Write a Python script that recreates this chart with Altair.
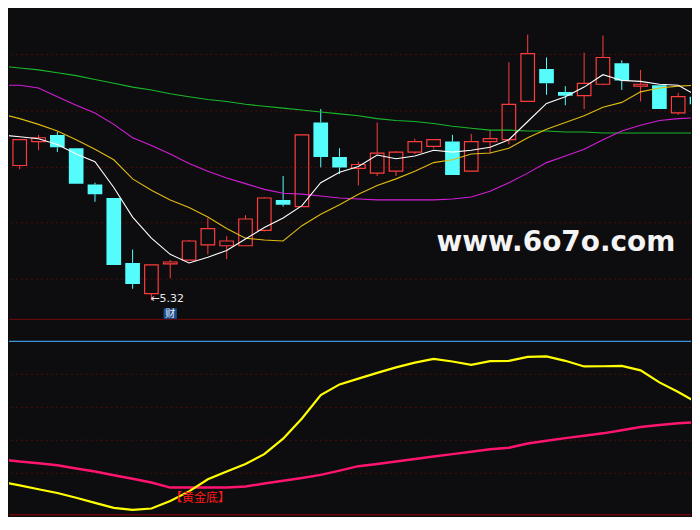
import altair as alt
import pandas as pd
import numpy as np

BG = "#0d0d10"
RED = "#ff3c3c"
CYAN = "#54fcfc"

# ---- candles (index 0..36) ----
opens  = [6.73, 6.98, 7.05, 6.91, 6.53, 6.39, 5.71, 5.39, 5.70, 5.74, 5.90, 5.89, 5.89, 6.05, 6.37, 6.30, 7.18, 6.82, 6.70,
          6.65, 6.67, 6.87, 6.93, 6.98, 6.67, 6.98, 7.00, 7.40, 7.74, 7.50, 7.46, 7.58, 7.80, 7.56, 7.57, 7.28, 7.45]
highs  = [7.00, 7.05, 7.08, 6.91, 6.55, 6.39, 5.85, 5.69, 5.74, 5.95, 6.18, 5.99, 6.21, 6.40, 6.62, 7.05, 7.32, 6.91, 6.77,
          7.18, 6.88, 7.01, 7.00, 7.05, 7.06, 7.10, 7.81, 8.10, 7.86, 7.56, 7.91, 8.09, 7.83, 7.73, 7.57, 7.49, 7.45]
lows   = [6.69, 6.89, 6.87, 6.54, 6.35, 5.69, 5.44, 5.32, 5.55, 5.74, 5.80, 5.75, 5.89, 6.04, 6.30, 6.30, 6.71, 6.64, 6.52,
          6.62, 6.62, 6.85, 6.91, 6.63, 6.67, 6.85, 6.95, 7.40, 7.47, 7.36, 7.32, 7.57, 7.52, 7.40, 7.32, 7.26, 7.37]
closes = [7.00, 7.02, 6.92, 6.54, 6.43, 5.69, 5.49, 5.69, 5.72, 5.94, 6.07, 5.94, 6.17, 6.39, 6.32, 7.05, 6.82, 6.71, 6.74,
          6.86, 6.87, 6.98, 7.00, 6.63, 6.98, 7.01, 7.37, 7.90, 7.59, 7.46, 7.59, 7.86, 7.62, 7.58, 7.32, 7.45, 7.37]

# ---- moving averages (index -1..36) ----
ma5  = [7.05, 7.03, 7.01, 6.95, 6.85, 6.77, 6.50, 6.19, 5.97, 5.80, 5.71, 5.77, 5.84, 5.96, 6.08, 6.18, 6.31, 6.55, 6.66,
        6.72, 6.84, 6.80, 6.83, 6.89, 6.87, 6.89, 6.92, 7.00, 7.19, 7.38, 7.45, 7.55, 7.68, 7.62, 7.61, 7.58, 7.57, 7.46]
ma10 = [7.27, 7.22, 7.16, 7.09, 7.00, 6.90, 6.79, 6.59, 6.47, 6.37, 6.29, 6.19, 6.07, 5.97, 5.95, 5.94, 6.10, 6.22, 6.32,
        6.43, 6.52, 6.59, 6.67, 6.76, 6.79, 6.85, 6.86, 6.91, 7.02, 7.11, 7.18, 7.25, 7.34, 7.39, 7.50, 7.54, 7.56, 7.57]
ma20 = [7.57, 7.57, 7.54, 7.45, 7.36, 7.28, 7.16, 7.02, 6.94, 6.85, 6.75, 6.67, 6.60, 6.54, 6.48, 6.44, 6.43, 6.41, 6.39,
        6.38, 6.37, 6.37, 6.37, 6.37, 6.38, 6.40, 6.46, 6.55, 6.65, 6.76, 6.83, 6.90, 7.00, 7.09, 7.15, 7.20, 7.22, 7.23]
ma60 = [7.77, 7.75, 7.73, 7.70, 7.67, 7.63, 7.59, 7.55, 7.52, 7.48, 7.45, 7.42, 7.40, 7.37, 7.35, 7.33, 7.31, 7.29, 7.27,
        7.25, 7.22, 7.20, 7.19, 7.17, 7.14, 7.12, 7.10, 7.10, 7.09, 7.09, 7.08, 7.08, 7.07, 7.07, 7.07, 7.07, 7.07, 7.07]

# ---- lower indicator (index -1..36) ----
ind_fast = [14.8, 12.6, 10.3, 8.0, 5.1, 2.0, -1.0, -2.2, -1.4, 3.2, 9.0, 16.3, 21.0, 25.6, 31.6, 41.0, 53.2, 67.4, 73.9,
            77.4, 80.9, 84.2, 87.1, 89.4, 87.8, 85.7, 88.0, 88.2, 90.6, 90.9, 88.2, 84.8, 84.9, 85.1, 82.4, 75.1, 69.3, 62.9]
ind_slow = [28.4, 27.1, 26.1, 24.8, 22.9, 21.0, 18.8, 16.7, 14.4, 11.3, 11.3, 11.3, 11.3, 11.9, 13.8, 15.4, 17.1, 19.0, 21.6,
            24.3, 25.6, 27.1, 28.7, 30.1, 31.6, 33.0, 34.5, 35.5, 38.0, 39.7, 41.3, 42.8, 44.2, 46.1, 48.0, 49.3, 50.3, 51.0]

grid_top = [7.89, 7.30, 6.71, 6.13, 5.54]
grid_bottom = [80, 60, 40, 20]
ref_level = [100]

low_label = "←5.32"
low_index = 7
low_price = 5.33
cai_label = "财"
cai_index = 8
cai_box = (5.235, 5.125)
cross_label = "【黄金底】"
cross_pos = (9.58, 4.9)
watermark = "www.6o7o.com"
watermark_pos = (28.5, 5.83)

W = 684
H_TOP = 312
H_BOT = 196
HALF_UP = 0.36     # half body width (index units), hollow candles
HALF_DN = 0.39     # half body width (index units), filled candles

xs = alt.Scale(domain=[-0.57, 35.68], nice=False, zero=False, padding=0)
ys_top = alt.Scale(domain=[5.115, 8.37], nice=False, zero=False)
ys_bot = alt.Scale(domain=[-6.09, 112.46], nice=False, zero=False)

c = pd.DataFrame({"i": list(range(37)), "open": opens, "high": highs, "low": lows, "close": closes})
c["top"] = c[["open", "close"]].max(axis=1)
c["bot"] = c[["open", "close"]].min(axis=1)
c["dir"] = np.where(c["close"] >= c["open"], "up", "down")

li = list(range(-1, 37))
ma = pd.DataFrame({"i": li, "MA5": ma5, "MA10": ma10, "MA20": ma20, "MA60": ma60})
ind = pd.DataFrame({"i": li, "fast": ind_fast, "slow": ind_slow})

X = alt.X("i:Q", scale=xs, axis=None)
dircol = alt.Color("dir:N", scale=alt.Scale(domain=["up", "down"], range=[RED, CYAN]), legend=None)

grid_t = alt.Chart(pd.DataFrame({"p": grid_top})).mark_rule(
    color="#4e0d0d", strokeDash=[2, 3], strokeWidth=1).encode(y=alt.Y("p:Q", scale=ys_top, axis=None))
sep_t = alt.Chart(pd.DataFrame({"p": [5.12]})).mark_rule(color="#5e0a0a", strokeWidth=1.2).encode(
    y=alt.Y("p:Q", scale=ys_top, axis=None))

base_c = alt.Chart(c)
wick_up = base_c.mark_rule(strokeWidth=1, clip=True).encode(
    x=X, y=alt.Y("high:Q", scale=ys_top, axis=None), y2="top:Q", color=dircol)
wick_dn = base_c.mark_rule(strokeWidth=1, clip=True).encode(
    x=X, y=alt.Y("bot:Q", scale=ys_top, axis=None), y2="low:Q", color=dircol)
body_up = base_c.transform_filter(alt.datum.dir == "up").transform_calculate(
    xl=f"datum.i - {HALF_UP}", xr=f"datum.i + {HALF_UP}").mark_rect(
    fillOpacity=0, fill=BG, stroke=RED, strokeWidth=1.2, clip=True).encode(
    x=alt.X("xl:Q", scale=xs, axis=None), x2="xr:Q",
    y=alt.Y("top:Q", scale=ys_top, axis=None), y2="bot:Q")
body_dn = base_c.transform_filter(alt.datum.dir == "down").transform_calculate(
    xl=f"datum.i - {HALF_DN}", xr=f"datum.i + {HALF_DN}").mark_rect(color=CYAN, clip=True).encode(
    x=alt.X("xl:Q", scale=xs, axis=None), x2="xr:Q",
    y=alt.Y("top:Q", scale=ys_top, axis=None), y2="bot:Q")

def ma_line(col, color, w=1.1):
    return alt.Chart(ma).mark_line(color=color, strokeWidth=w, clip=True).encode(
        x=X, y=alt.Y(f"{col}:Q", scale=ys_top, axis=None))

l60 = ma_line("MA60", "#19b82a")
l20 = ma_line("MA20", "#d21ed6")
l10 = ma_line("MA10", "#e0bb12")
l5 = ma_line("MA5", "#ffffff")

lowtxt = alt.Chart(pd.DataFrame({"i": [low_index], "p": [low_price], "t": [low_label]})).mark_text(
    align="left", baseline="middle", dx=-1, fontSize=11, font="DejaVu Sans", color="#e8e8e8").encode(
    x=X, y=alt.Y("p:Q", scale=ys_top, axis=None), text="t:N")
caibox = alt.Chart(pd.DataFrame({"i": [cai_index], "a": [cai_box[0]], "b": [cai_box[1]]})).transform_calculate(
    xl="datum.i - 0.35", xr="datum.i + 0.35").mark_rect(color="#1d4f8f").encode(
    x=alt.X("xl:Q", scale=xs, axis=None), x2="xr:Q", y=alt.Y("a:Q", scale=ys_top, axis=None), y2="b:Q")
caitxt = alt.Chart(pd.DataFrame({"i": [cai_index], "p": [(cai_box[0] + cai_box[1]) / 2], "t": [cai_label]})).mark_text(
    align="center", baseline="middle", fontSize=10, font="Noto Sans CJK SC", color="#e6eef8").encode(
    x=X, y=alt.Y("p:Q", scale=ys_top, axis=None), text="t:N")
wm = alt.Chart(pd.DataFrame({"i": [watermark_pos[0]], "p": [watermark_pos[1]], "t": [watermark]})).mark_text(
    align="center", baseline="alphabetic", fontSize=28, fontWeight="bold", font="DejaVu Sans", color="#f4f4f4").encode(
    x=X, y=alt.Y("p:Q", scale=ys_top, axis=None), text="t:N")

top = alt.layer(grid_t, sep_t, wick_up, wick_dn, body_up, body_dn, l60, l20, l10, l5,
                lowtxt, caibox, caitxt, wm).properties(width=W, height=H_TOP)

grid_b = alt.Chart(pd.DataFrame({"v": grid_bottom})).mark_rule(
    color="#4e0d0d", strokeDash=[2, 3], strokeWidth=1).encode(y=alt.Y("v:Q", scale=ys_bot, axis=None))
blue = alt.Chart(pd.DataFrame({"v": ref_level})).mark_rule(color="#3a96d8", strokeWidth=1.2).encode(
    y=alt.Y("v:Q", scale=ys_bot, axis=None))
sep_b = alt.Chart(pd.DataFrame({"v": [-5.2]})).mark_rule(color="#6a0808", strokeWidth=1.5).encode(
    y=alt.Y("v:Q", scale=ys_bot, axis=None))
slow = alt.Chart(ind).mark_line(color="#ff1470", strokeWidth=2.5, clip=True).encode(
    x=X, y=alt.Y("slow:Q", scale=ys_bot, axis=None))
fast = alt.Chart(ind).mark_line(color="#ffff00", strokeWidth=2.2, clip=True).encode(
    x=X, y=alt.Y("fast:Q", scale=ys_bot, axis=None))
cross = alt.Chart(pd.DataFrame({"i": [cross_pos[0]], "v": [cross_pos[1]], "t": [cross_label]})).mark_text(
    align="center", baseline="middle", fontSize=12, font="Noto Sans CJK SC", color="#ff1a1a").encode(
    x=X, y=alt.Y("v:Q", scale=ys_bot, axis=None), text="t:N")

bottom = alt.layer(grid_b, blue, sep_b, slow, fast, cross).properties(width=W, height=H_BOT)

chart = alt.vconcat(top, bottom, spacing=0).properties(
    background=BG, padding=0).configure_view(stroke=None)

chart.save("out.html", embed_options={"renderer": "svg", "actions": False})
